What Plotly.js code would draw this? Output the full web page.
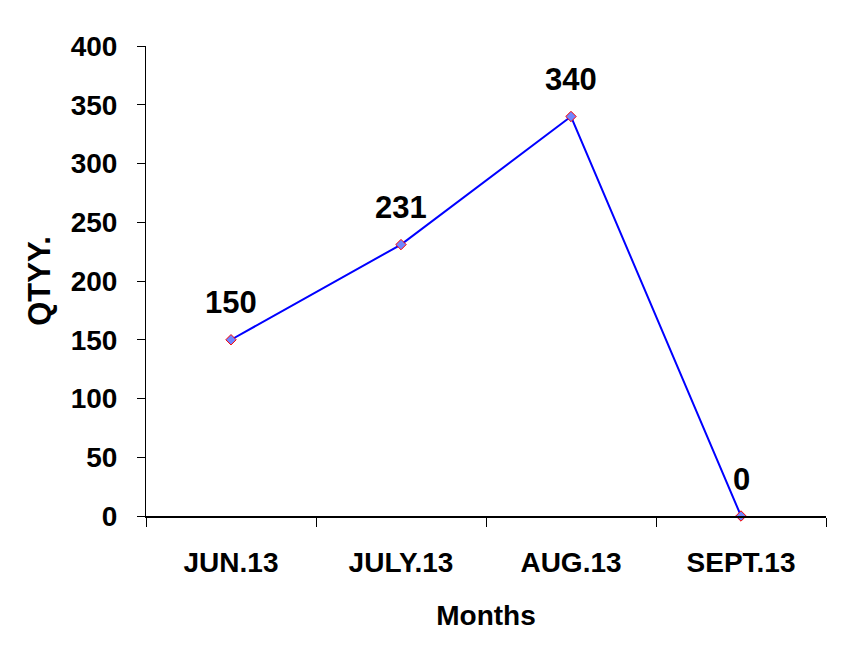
<!DOCTYPE html>
<html>
<head>
<meta charset="utf-8">
<script src="https://cdn.plot.ly/plotly-3.0.1.min.js"></script>
<style>html,body{margin:0;padding:0;background:#fff;}#chart{width:856px;height:664px;}</style>
</head>
<body>
<div id="chart"></div>
<script>
const months = ["JUN.13", "JULY.13", "AUG.13", "SEPT.13"];
const qty = [150, 231, 340, 0];
const yTicks = [0, 50, 100, 150, 200, 250, 300, 350, 400];

const FONT = "Liberation Sans, Arial, sans-serif";
const BOLD = {family: FONT, size: 28, color: "#000", weight: 700};
const LABEL = {family: FONT, size: 31, color: "#000", weight: 700};

const trace = {
  type: "scatter",
  mode: "lines+markers",
  x: months,
  y: qty,
  cliponaxis: false,
  line: {color: "#0000ff", width: 2},
  marker: {symbol: "diamond", size: 8, color: "#6f86ff", line: {color: "#ff0000", width: 1}},
  hoverinfo: "x+y"
};

const annotations = months.map((m, i) => ({
  x: m, y: qty[i], xref: "x", yref: "y",
  text: String(qty[i]), showarrow: false,
  yshift: 37, font: LABEL
}));

const layout = {
  width: 856, height: 664,
  margin: {l: 146, r: 30, t: 46, b: 148},
  paper_bgcolor: "#fff", plot_bgcolor: "#fff",
  showlegend: false,
  font: BOLD,
  xaxis: {
    type: "category",
    range: [-0.5, 3.5],
    tickson: "boundaries",
    ticks: "outside", ticklen: 9, tickwidth: 1, tickcolor: "#000",
    showline: true, linecolor: "#000", linewidth: 2,
    showgrid: false, zeroline: false,
    tickfont: BOLD,
    ticklabelstandoff: 20,
    title: {text: "Months", font: BOLD, standoff: 29}
  },
  yaxis: {
    range: [0, 400],
    tickvals: yTicks,
    ticks: "outside", ticklen: 8, tickwidth: 1, tickcolor: "#000",
    showline: true, linecolor: "#000", linewidth: 1,
    showgrid: false, zeroline: false,
    tickfont: BOLD,
    ticklabelstandoff: 14,
    title: {text: "QTYY.", font: {family: FONT, size: 31, color: "#000", weight: 700}, standoff: 10}
  },
  annotations: annotations
};

Plotly.newPlot("chart", [trace], layout, {displayModeBar: false, staticPlot: true});
</script>
</body>
</html>
